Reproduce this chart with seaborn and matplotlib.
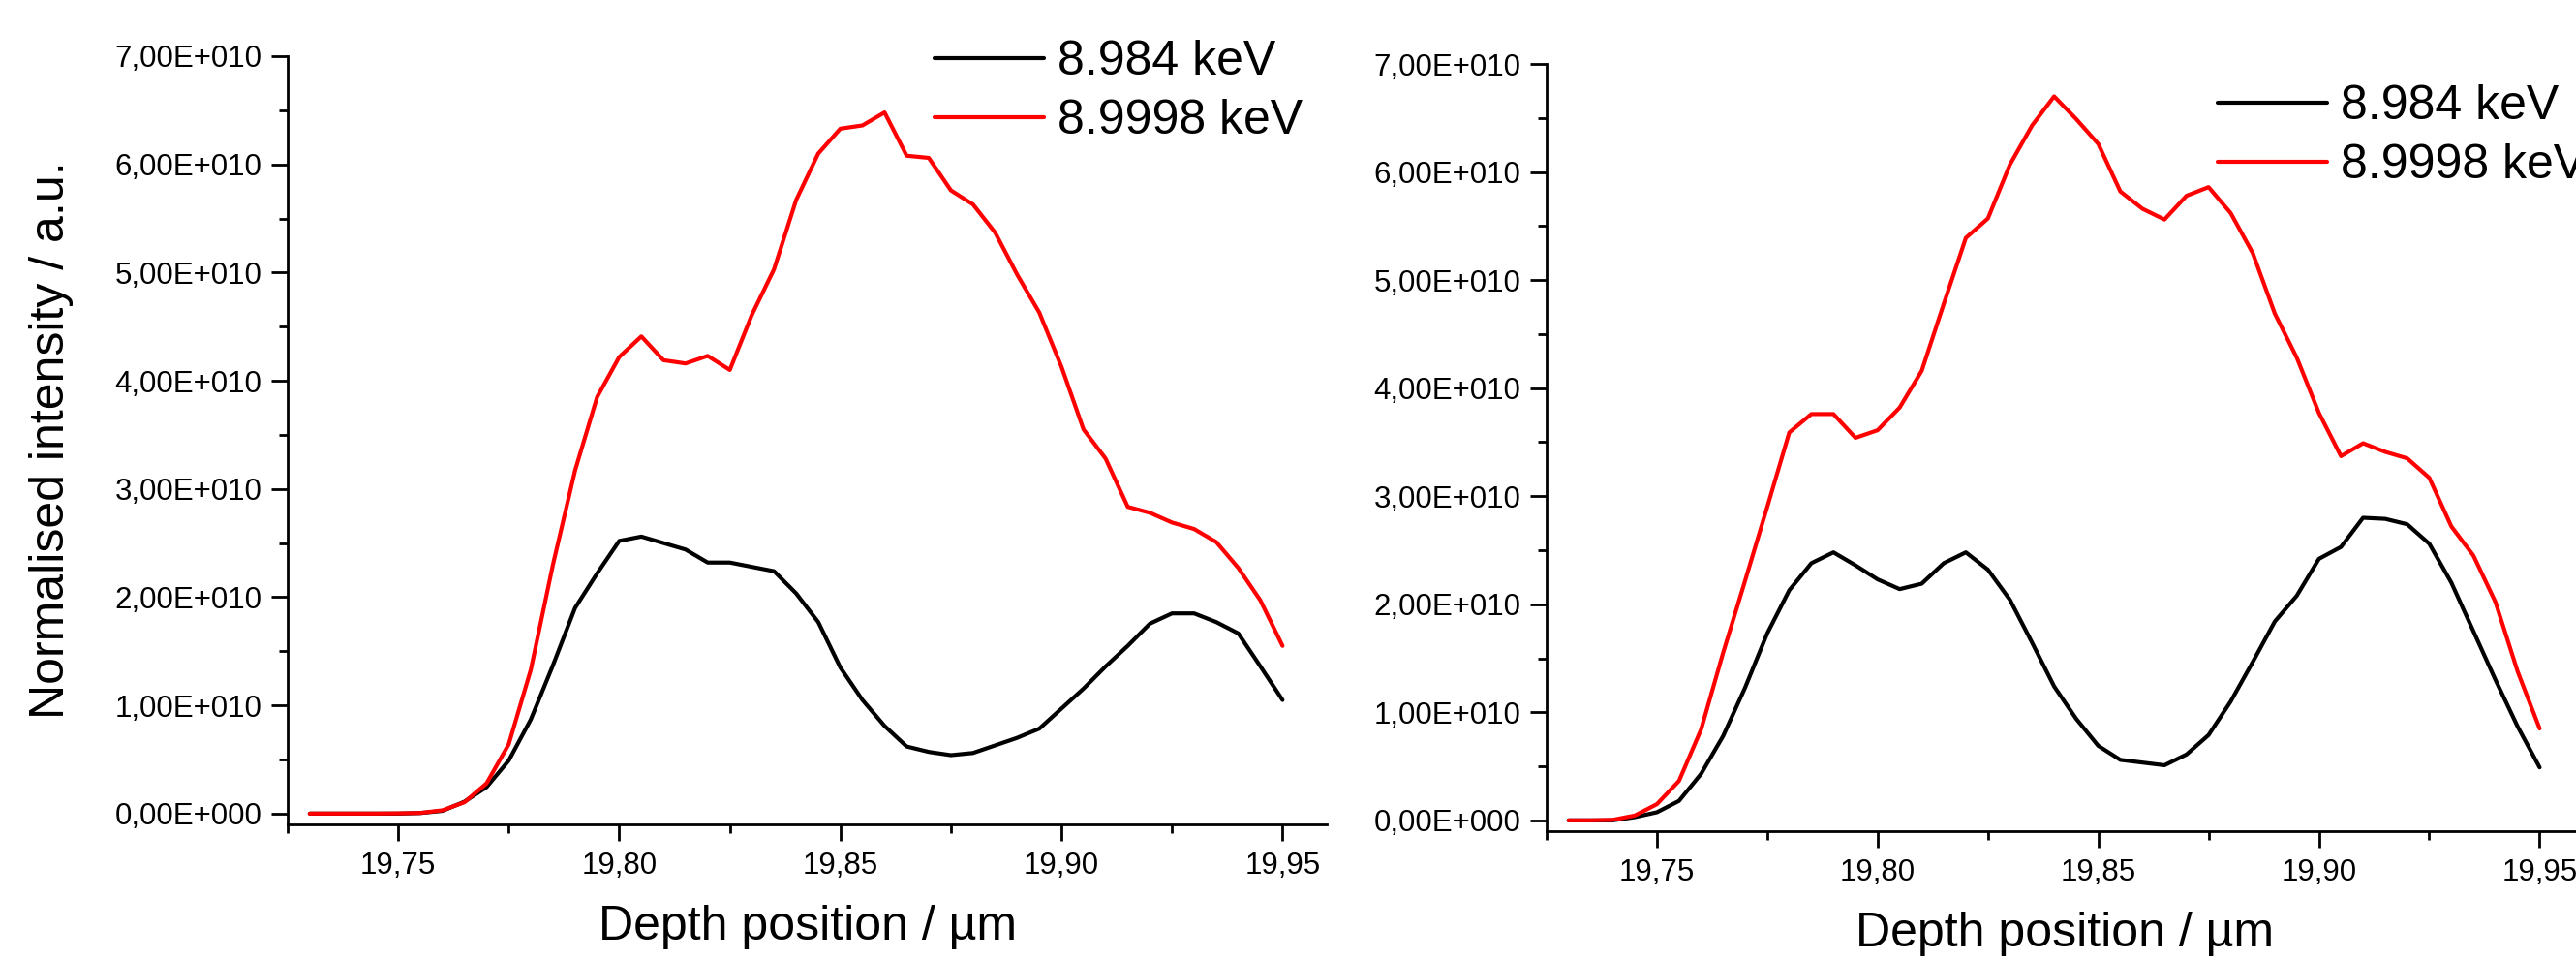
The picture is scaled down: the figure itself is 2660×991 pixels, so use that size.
import numpy as np
import pandas as pd
import matplotlib
matplotlib.use("Agg")
import matplotlib.pyplot as plt
from matplotlib.ticker import MultipleLocator, FuncFormatter
import seaborn as sns

# depth positions (µm), shared by both panels
depth = [19.730, 19.735, 19.740, 19.745, 19.750, 19.755, 19.760, 19.765, 19.770,
         19.775, 19.780, 19.785, 19.790, 19.795, 19.800, 19.805, 19.810, 19.815,
         19.820, 19.825, 19.830, 19.835, 19.840, 19.845, 19.850, 19.855, 19.860,
         19.865, 19.870, 19.875, 19.880, 19.885, 19.890, 19.895, 19.900, 19.905,
         19.910, 19.915, 19.920, 19.925, 19.930, 19.935, 19.940, 19.945, 19.950]

labels = ["8.984 keV", "8.9998 keV"]

# intensities in units of 1E+010
left_low = [0, 0, 0, 0, 0, 0.005, 0.025, 0.11, 0.245, 0.49,
            0.87, 1.37, 1.90, 2.22, 2.52, 2.56, 2.50, 2.44, 2.32, 2.32,
            2.28, 2.24, 2.035, 1.77, 1.35, 1.05, 0.81, 0.62, 0.57, 0.54,
            0.56, 0.63, 0.70, 0.785, 0.97, 1.155, 1.36, 1.55, 1.755, 1.85,
            1.85, 1.77, 1.665, 1.36, 1.05]
left_high = [0, 0, 0, 0, 0.002, 0.006, 0.03, 0.105, 0.28, 0.64,
             1.33, 2.30, 3.17, 3.85, 4.22, 4.41, 4.19, 4.16, 4.23, 4.10,
             4.61, 5.03, 5.67, 6.10, 6.33, 6.36, 6.48, 6.08, 6.06, 5.76,
             5.63, 5.37, 4.98, 4.63, 4.13, 3.55, 3.28, 2.835, 2.78, 2.69,
             2.63, 2.51, 2.27, 1.97, 1.55]
right_low = [0, 0, 0, 0.03, 0.075, 0.18, 0.43, 0.78, 1.23, 1.73,
             2.13, 2.38, 2.48, 2.36, 2.23, 2.14, 2.19, 2.38, 2.48, 2.32,
             2.04, 1.645, 1.24, 0.94, 0.69, 0.56, 0.535, 0.51, 0.61, 0.79,
             1.10, 1.465, 1.84, 2.08, 2.42, 2.53, 2.80, 2.79, 2.74, 2.56,
             2.20, 1.75, 1.30, 0.87, 0.49]
right_high = [0, 0, 0.005, 0.045, 0.15, 0.365, 0.84, 1.55, 2.22, 2.9,
              3.59, 3.76, 3.76, 3.54, 3.61, 3.82, 4.16, 4.78, 5.39, 5.57,
              6.07, 6.43, 6.70, 6.49, 6.26, 5.82, 5.66, 5.56, 5.78, 5.86,
              5.62, 5.25, 4.69, 4.28, 3.77, 3.37, 3.49, 3.41, 3.35, 3.17,
              2.72, 2.45, 2.02, 1.38, 0.85]


def make_df(low, high):
    df = pd.DataFrame({
        "depth": depth * 2,
        "intensity": np.array(low + high) * 1e10,
        "energy": [labels[0]] * len(depth) + [labels[1]] * len(depth),
    })
    return df


def y_fmt(v, pos):
    if abs(v) < 1:
        return "0,00E+000"
    return f"{v / 1e10:.2f}".replace(".", ",") + "E+010"


def x_fmt(v, pos):
    return f"{v:.2f}".replace(".", ",")


sns.set_style("ticks", rc={"text.color": "black", "axes.labelcolor": "black",
                           "xtick.color": "black", "ytick.color": "black",
                           "axes.edgecolor": "black"})
plt.rcParams['font.family'] = ['Liberation Sans', 'DejaVu Sans']

W, H = 2660, 991
fig = plt.figure(figsize=(W / 100, H / 100), dpi=100)

# axes boxes in pixels: left, top, right, bottom
boxes = [(297, 58, 1370, 851), (1597, 66, 2668, 858)]
legend_pos = [(965, 41), (2290, 87)]
palette = {labels[0]: "black", labels[1]: "#ff0000"}

for i, (low, high) in enumerate([(left_low, left_high), (right_low, right_high)]):
    l, t, r, b = boxes[i]
    ax = fig.add_axes([l / W, 1 - b / H, (r - l) / W, (b - t) / H])
    sns.lineplot(data=make_df(low, high), x="depth", y="intensity", hue="energy",
                 palette=palette, estimator=None, linewidth=3.0, ax=ax)

    ax.set_xlim(19.725, 19.96)
    ax.set_ylim(-0.1e10, 7e10)
    ax.xaxis.set_major_locator(MultipleLocator(0.05))
    ax.xaxis.set_minor_locator(MultipleLocator(0.025))
    ax.yaxis.set_major_locator(MultipleLocator(1e10))
    ax.yaxis.set_minor_locator(MultipleLocator(0.5e10))
    ax.xaxis.set_major_formatter(FuncFormatter(x_fmt))
    ax.yaxis.set_major_formatter(FuncFormatter(y_fmt))
    ax.tick_params(which="major", direction="out", length=12, width=2.0,
                   labelsize=22.5, colors="black")
    ax.tick_params(axis="x", which="major", pad=8)
    ax.tick_params(axis="y", which="major", pad=7)
    ax.tick_params(which="minor", direction="out", length=6.5, width=2.0)
    sns.despine(ax=ax)
    for s in ["left", "bottom"]:
        ax.spines[s].set_linewidth(2.0)
        ax.spines[s].set_color("black")

    ax.set_xlabel("Depth position / µm", fontsize=36, color="black")
    ax.xaxis.set_label_coords(0.5, -(934 - 851) / (b - t))
    if i == 0:
        ax.set_ylabel("Normalised intensity / a.u.", fontsize=36, color="black")
        ax.yaxis.set_label_coords((76 - l) / (r - l), 0.5)
    else:
        ax.set_ylabel("")

    lx, ly = legend_pos[i]
    sns.move_legend(ax, "upper left", bbox_to_anchor=(lx / W, 1 - ly / H),
                    bbox_transform=fig.transFigure, title=None, frameon=False,
                    fontsize=36, borderpad=0, borderaxespad=0,
                    handlelength=2.26, handletextpad=0.28, labelspacing=0.3)
    leg = ax.get_legend()
    for line in leg.get_lines():
        line.set_linewidth(3.0)
    for txt in leg.get_texts():
        txt.set_color("black")

fig.savefig("out.png", dpi=100)
